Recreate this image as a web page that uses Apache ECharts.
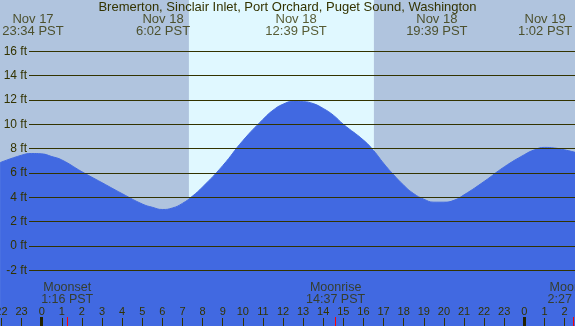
<!DOCTYPE html>
<html>
<head>
<meta charset="utf-8">
<script src="https://cdn.jsdelivr.net/npm/echarts@6/dist/echarts.min.js"></script>
<style>html,body{margin:0;padding:0;background:#B0C4DE;}#c{width:575px;height:326px;}</style>
</head>
<body>
<div id="c"></div>
<script>
// ---- data ----
const titleText = 'Bremerton, Sinclair Inlet, Port Orchard, Puget Sound, Washington';
// hours relative to Nov 18 00:00 PST
const tideTimes   = [-2.07, -1, -0.5, 0, 0.5, 1, 2, 3, 4, 5, 5.5, 6, 6.5, 7, 7.5, 8, 9, 10, 11, 11.5, 12, 12.5, 13, 13.5, 14, 14.5, 15, 16, 16.5, 17, 17.5, 18, 18.5, 19, 19.5, 20, 20.5, 21, 22, 23, 24, 24.5, 25, 25.5, 26, 26.52];
const tideHeights = [6.85, 7.46, 7.6, 7.57, 7.35, 7.07, 6.1, 5.2, 4.3, 3.45, 3.18, 3.0, 3.12, 3.5, 4.1, 4.85, 6.6, 8.65, 10.4, 11.15, 11.65, 11.87, 11.86, 11.7, 11.3, 10.75, 10.0, 8.7, 7.85, 6.8, 5.85, 5.0, 4.3, 3.85, 3.6, 3.6, 3.75, 4.2, 5.3, 6.5, 7.5, 7.9, 8.1, 8.05, 7.9, 7.7];
const extremeTimes  = [-0.433, 6.033, 12.65, 19.65, 25.033];
const extremeLabels = ['Nov 17\n23:34 PST', 'Nov 18\n6:02 PST', 'Nov 18\n12:39 PST', 'Nov 18\n19:39 PST', 'Nov 19\n1:02 PST'];
const moonTimes  = [1.267, 14.617, 26.45];
const moonLabels = ['Moonset\n1:16 PST', 'Moonrise\n14:37 PST', 'Moonset\n2:27 PST'];
const sunrise = 7.32, sunset = 16.52;
const hourTicks = [-2,-1,0,1,2,3,4,5,6,7,8,9,10,11,12,13,14,15,16,17,18,19,20,21,22,23,24,25,26];
const midnightTicks = [0, 24];

// ---- layout ----
const XMIN = -2.074, XMAX = 26.52;
const YMIN = -6.577, YMAX = 20.215;
const TXT = '#333300';
const FONT = 'Liberation Sans';

const chart = echarts.init(document.getElementById('c'), null, {renderer: 'canvas'});
const baseX = {type: 'value', min: XMIN, max: XMAX, gridIndex: 0, position: 'bottom',
  axisLine: {show: false, onZero: false}, splitLine: {show: false}};

chart.setOption({
  backgroundColor: '#B0C4DE',
  animation: false,
  title: {text: titleText, left: 'center', top: 1, padding: 0,
    textStyle: {fontSize: 13, fontWeight: 'normal', color: TXT, fontFamily: FONT}},
  grid: [
    {left: 0, right: 0, top: 0, bottom: 0, outerBoundsMode: 'none', containLabel: false},
    {left: 29, right: 0, top: 51.3, bottom: 55.7, outerBoundsMode: 'none', containLabel: false}
  ],
  xAxis: [
    Object.assign({}, baseX, {
      axisTick: {show: true, inside: true, length: 8, lineStyle: {color: TXT, width: 1}, customValues: hourTicks},
      axisLabel: {show: true, inside: true, margin: 9, color: TXT, fontSize: 11, fontFamily: FONT,
        customValues: hourTicks, formatter: v => String(((Math.round(v) % 24) + 24) % 24)},
      z: 5
    }),
    Object.assign({}, baseX, {
      axisTick: {show: true, inside: true, length: 9, lineStyle: {color: '#222200', width: 3}, customValues: midnightTicks},
      axisLabel: {show: false}, z: 6
    }),
    Object.assign({}, baseX, {
      axisTick: {show: true, inside: true, length: 9, lineStyle: {color: '#ff0000', width: 1}, customValues: moonTimes},
      axisLabel: {show: false}, z: 6
    }),
    {type: 'value', gridIndex: 1, min: XMIN, max: XMAX, show: false, axisLine: {onZero: false}}
  ],
  yAxis: [
    {type: 'value', gridIndex: 0, min: YMIN, max: YMAX, show: false, axisLine: {onZero: false}},
    {type: 'value', gridIndex: 1, min: -2, max: 16, interval: 2, z: 5,
      axisLine: {show: false, onZero: false}, axisTick: {show: false},
      axisLabel: {show: true, margin: 2, color: TXT, fontSize: 12, fontFamily: FONT, formatter: '{value} ft'},
      splitLine: {show: true, lineStyle: {color: TXT, width: 1}}}
  ],
  series: [
    {type: 'line', xAxisIndex: 0, yAxisIndex: 0, z: 1, data: [[XMIN, 0], [XMAX, 0]],
      symbol: 'none', lineStyle: {opacity: 0}, silent: true,
      markArea: {silent: true, itemStyle: {color: '#E0F8FF'}, data: [[{xAxis: sunrise}, {xAxis: sunset}]]}},
    {type: 'line', xAxisIndex: 0, yAxisIndex: 0, z: 2, smooth: true, symbol: 'none',
      data: tideTimes.map((t, i) => [t, tideHeights[i]]),
      lineStyle: {color: '#4169E1', width: 1},
      areaStyle: {color: '#4169E1', opacity: 1, origin: 'start'}},
    {type: 'scatter', xAxisIndex: 0, yAxisIndex: 0, z: 7, symbolSize: 0,
      data: extremeTimes.map((t, i) => ({value: [t, 18.1], label: {formatter: extremeLabels[i]}})),
      label: {show: true, position: 'inside', color: TXT, fontSize: 13, lineHeight: 12, fontFamily: FONT, align: 'center', verticalAlign: 'middle'}},
    {type: 'scatter', xAxisIndex: 0, yAxisIndex: 0, z: 7, symbolSize: 0,
      data: moonTimes.map((t, i) => ({value: [t, -3.9], label: {formatter: moonLabels[i]}})),
      label: {show: true, position: 'inside', color: TXT, fontSize: 12.5, lineHeight: 12, fontFamily: FONT, align: 'center', verticalAlign: 'middle'}},
    {type: 'line', xAxisIndex: 3, yAxisIndex: 1, data: [], symbol: 'none'}
  ]
});
</script>
</body>
</html>
